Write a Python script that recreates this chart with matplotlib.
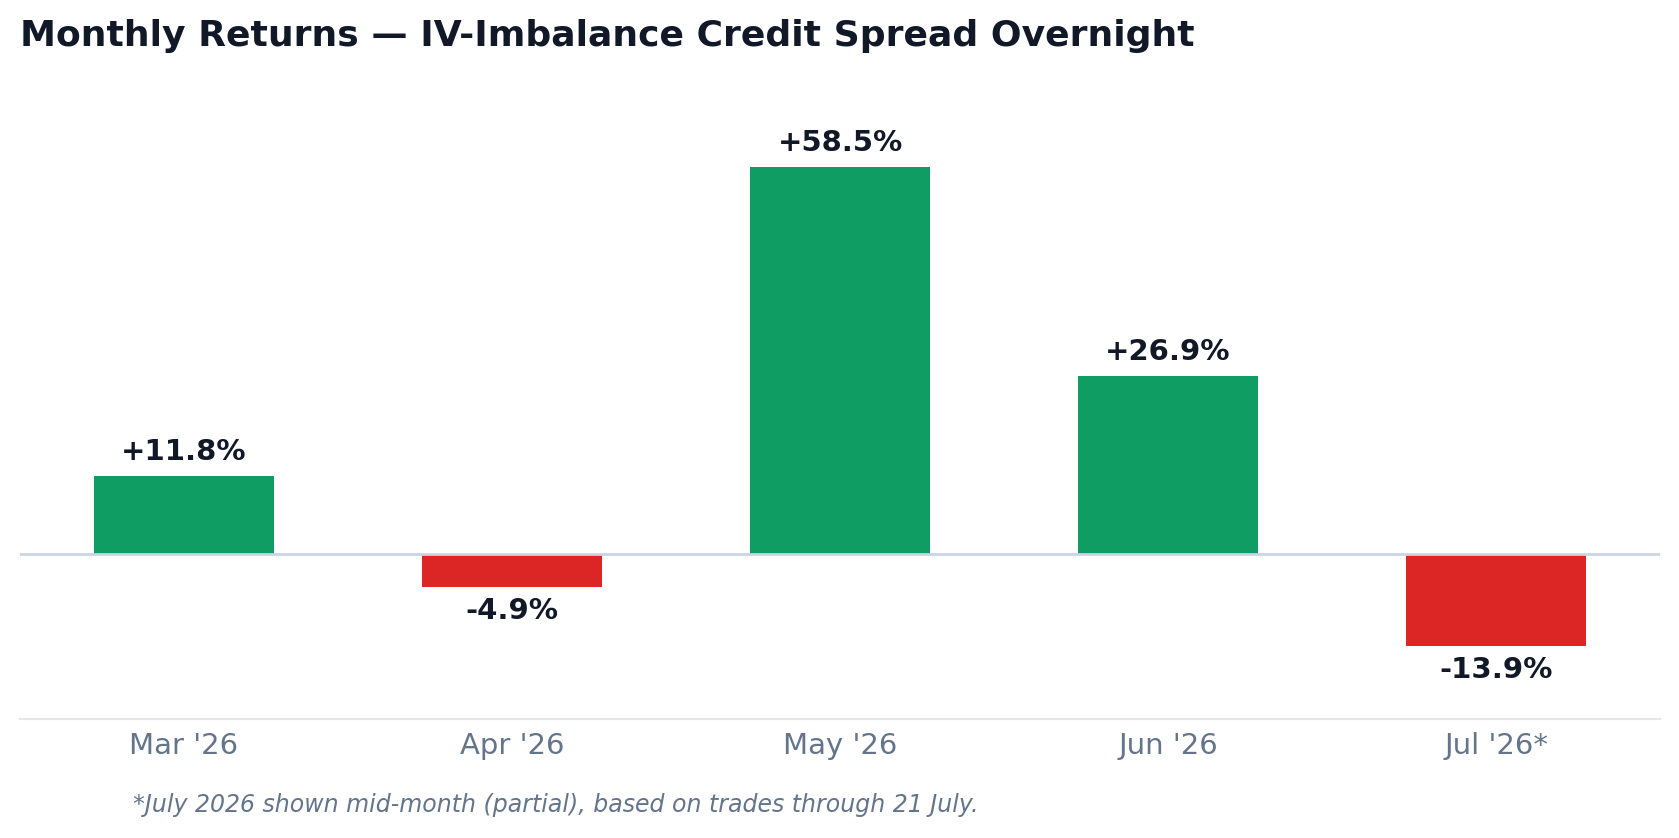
import matplotlib
matplotlib.use("Agg")
import matplotlib.pyplot as plt

# data
months = ["Mar '26", "Apr '26", "May '26", "Jun '26", "Jul '26*"]
returns = [11.8, -4.9, 58.5, 26.9, -13.9]

GREEN = "#109d64"
RED = "#dc2626"
DARK = "#111827"
GREY = "#64748b"


def main():
    fig = plt.figure(figsize=(16.79, 8.38), dpi=100)
    ax = fig.add_axes([0.0119, 0.142, 0.9768, 0.728])

    x = list(range(len(months)))
    colors = [GREEN if v >= 0 else RED for v in returns]
    ax.bar(x, returns, width=0.55, color=colors, zorder=2)

    for xi, v in zip(x, returns):
        label = "{:+.1f}%".format(v)
        if v >= 0:
            ax.text(xi, v + 1.5, label, ha="center", va="bottom",
                    fontsize=21, fontweight="bold", color=DARK)
        else:
            ax.text(xi, v - 1.5, label, ha="center", va="top",
                    fontsize=21, fontweight="bold", color=DARK)

    ax.axhline(0, color="#cbd5e1", linewidth=2, zorder=3)

    ax.set_xlim(-0.5, 4.5)
    ax.set_ylim(-24.9, 67.3)
    ax.set_yticks([])
    ax.set_xticks(x)
    ax.set_xticklabels(months, fontsize=21, color=GREY)
    ax.tick_params(axis="x", length=0, pad=9)
    for s in ["top", "right", "left"]:
        ax.spines[s].set_visible(False)
    ax.spines["bottom"].set_color("#e5e7eb")
    ax.spines["bottom"].set_linewidth(1.5)

    fig.text(20 / 1679, 1 - 36 / 838, "Monthly Returns \u2014 IV-Imbalance Credit Spread Overnight",
             fontsize=26, fontweight="bold", color=DARK, ha="left", va="center")
    fig.text(133 / 1679, 1 - 805 / 838,
             "*July 2026 shown mid-month (partial), based on trades through 21 July.",
             fontsize=17, style="italic", color=GREY, ha="left", va="center")

    fig.savefig("out.png", dpi=100)


if __name__ == "__main__":
    main()
